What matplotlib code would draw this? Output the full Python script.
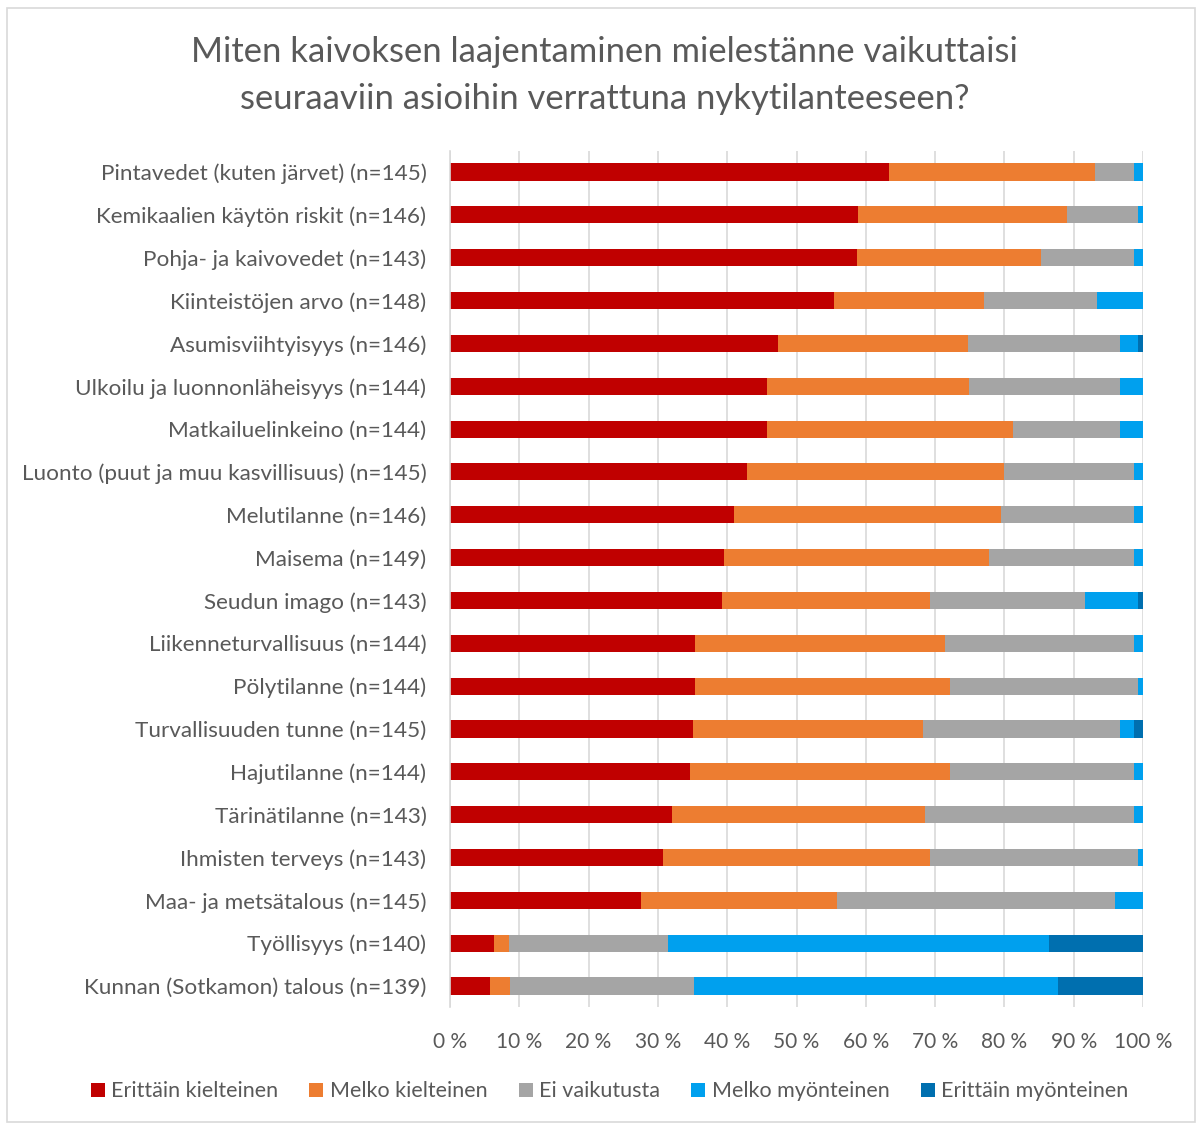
import matplotlib.pyplot as plt
from matplotlib.patches import Rectangle
import numpy as np

TEXT_COLOR = '#595959'

categories = [
    'Pintavedet (kuten järvet) (n=145)',
    'Kemikaalien käytön riskit (n=146)',
    'Pohja- ja kaivovedet (n=143)',
    'Kiinteistöjen arvo (n=148)',
    'Asumisviihtyisyys (n=146)',
    'Ulkoilu ja luonnonläheisyys (n=144)',
    'Matkailuelinkeino (n=144)',
    'Luonto (puut ja muu kasvillisuus) (n=145)',
    'Melutilanne (n=146)',
    'Maisema (n=149)',
    'Seudun imago (n=143)',
    'Liikenneturvallisuus (n=144)',
    'Pölytilanne (n=144)',
    'Turvallisuuden tunne (n=145)',
    'Hajutilanne (n=144)',
    'Tärinätilanne (n=143)',
    'Ihmisten terveys (n=143)',
    'Maa- ja metsätalous (n=145)',
    'Työllisyys (n=140)',
    'Kunnan (Sotkamon) talous (n=139)',
]

# shares in percent
erittain_kielteinen = [63.4, 58.9, 58.8, 55.4, 47.3, 45.8, 45.8, 42.8, 41.0, 39.6,
                       39.2, 35.4, 35.4, 35.1, 34.7, 32.1, 30.8, 27.6, 6.4, 5.8]
melko_kielteinen = [29.7, 30.1, 26.5, 21.6, 27.4, 29.1, 35.5, 37.1, 38.5, 38.2,
                    30.0, 36.1, 36.8, 33.2, 37.5, 36.5, 38.4, 28.3, 2.1, 2.8]
ei_vaikutusta = [5.6, 10.3, 13.4, 16.3, 22.0, 21.8, 15.4, 18.8, 19.2, 20.9,
                 22.5, 27.2, 27.1, 28.4, 26.5, 30.1, 30.1, 40.0, 23.0, 26.6]
melko_myonteinen = [1.3, 0.7, 1.3, 6.7, 2.6, 3.3, 3.3, 1.3, 1.3, 1.3,
                    7.6, 1.3, 0.7, 2.0, 1.3, 1.3, 0.7, 4.1, 55.0, 52.6]
erittain_myonteinen = [0.0, 0.0, 0.0, 0.0, 0.7, 0.0, 0.0, 0.0, 0.0, 0.0,
                       0.7, 0.0, 0.0, 1.3, 0.0, 0.0, 0.0, 0.0, 13.5, 12.2]

series = [
    ('Erittäin kielteinen', erittain_kielteinen, '#C00000'),
    ('Melko kielteinen', melko_kielteinen, '#ED7D31'),
    ('Ei vaikutusta', ei_vaikutusta, '#A5A5A5'),
    ('Melko myönteinen', melko_myonteinen, '#00A0EE'),
    ('Erittäin myönteinen', erittain_myonteinen, '#006FAF'),
]

plt.rcParams['font.family'] = ['Lato', 'DejaVu Sans']

fig = plt.figure(figsize=(12, 11.24), dpi=100)
ax = fig.add_axes([0.375, 0.1037, 0.5775, 0.7623])

y = np.arange(len(categories))
left = np.zeros(len(categories))
for name, values, color in series:
    vals = np.array(values)
    ax.barh(y, vals, left=left, height=0.4, color=color, label=name,
            linewidth=0)
    left += vals

ax.set_xlim(0, 100)
ax.set_ylim(len(categories) - 0.5, -0.5)
ax.set_xticks(np.arange(0, 101, 10))
ax.set_xticklabels([f'{t} %' for t in range(0, 101, 10)])
ax.set_yticks(y)
ax.set_yticklabels(categories)
ax.tick_params(axis='both', length=0, colors=TEXT_COLOR)
ax.tick_params(axis='x', pad=18, labelsize=15)
ax.tick_params(axis='y', pad=17, labelsize=16.2)
ax.grid(axis='x', color='#D9D9D9', linewidth=1.2)
ax.set_axisbelow(True)
for side in ['top', 'right', 'bottom']:
    ax.spines[side].set_visible(False)
ax.spines['left'].set_color('#D9D9D9')
ax.spines['left'].set_linewidth(1.2)

fig.text(0.504, 0.954, 'Miten kaivoksen laajentaminen mielestänne vaikuttaisi',
         ha='center', va='center', fontsize=24.9, color=TEXT_COLOR)
fig.text(0.504, 0.912, 'seuraaviin asioihin verrattuna nykytilanteeseen?',
         ha='center', va='center', fontsize=24.9, color=TEXT_COLOR)

handles, labels = ax.get_legend_handles_labels()
fig.legend(handles, labels, loc='center', bbox_to_anchor=(0.508, 0.029),
           ncol=5, frameon=False, fontsize=15.5, labelcolor=TEXT_COLOR,
           handlelength=0.65, handleheight=0.65, handletextpad=0.3,
           columnspacing=1.45)

fig.patches.append(Rectangle((0.006, 0.002), 0.99, 0.991, transform=fig.transFigure,
                             fill=False, edgecolor='#D9D9D9', linewidth=1.2))

fig.savefig('out.png', dpi=100)
